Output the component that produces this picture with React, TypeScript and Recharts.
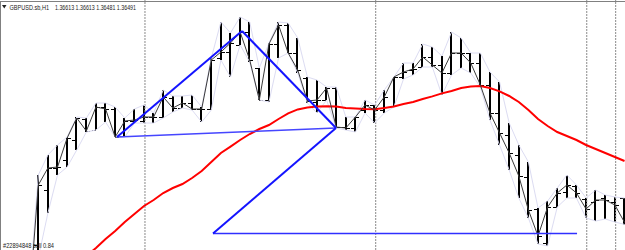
import React from 'react';
import { ComposedChart, Line, Bar, XAxis, YAxis, ReferenceLine } from 'recharts';

// bar index (hourly bars, -1 is the bar just off the left/bottom edge)
const barIndex = [
  -1, 0, 1, 2, 3, 4, 5, 6, 7, 8, 9, 10, 11, 12, 13, 14, 15, 16, 17, 18, 19, 20,
  21, 22, 23, 24, 25, 26, 27, 28, 29, 30, 31, 32, 33, 34, 35, 36, 37, 38, 39, 40,
  41, 42, 43, 44, 45, 46, 47, 48, 49, 50, 51, 52, 53, 54, 55, 56, 57, 58, 59, 60, 61,
];

const opens = [
  1.36003, 1.36378, 1.36653, 1.36763, 1.36803, 1.36903, 1.37008, 1.36953, 1.37068, 1.37058, 1.36923,
  1.36998, 1.36998, 1.37018, 1.37018, 1.37113, 1.37063, 1.37088, 1.37058, 1.37058, 1.37313,
  1.37343, 1.37378, 1.37443, 1.37263, 1.37103, 1.37383, 1.37478, 1.37338, 1.37213, 1.37093,
  1.37103, 1.37163, 1.36968, 1.36963, 1.37053, 1.37078, 1.37053, 1.37073, 1.37218, 1.37253,
  1.37268, 1.37318, 1.37278, 1.37238, 1.37338, 1.37338, 1.37288, 1.37178, 1.37038, 1.36928,
  1.36828, 1.36718, 1.36558, 1.36388, 1.36568, 1.36643, 1.36673, 1.36608, 1.36593, 1.36613,
  1.36593, 1.36613,
];

const highs = [
  1.36103, 1.36728, 1.36828, 1.36878, 1.36918, 1.37018, 1.37013, 1.37088, 1.37088, 1.37068, 1.37013,
  1.37058, 1.37078, 1.37038, 1.37153, 1.37123, 1.37123, 1.37128, 1.37068, 1.37313, 1.37493,
  1.37438, 1.37518, 1.37493, 1.37263, 1.37388, 1.37493, 1.37488, 1.37413, 1.37218, 1.37203,
  1.37168, 1.37168, 1.37018, 1.37018, 1.37103, 1.37078, 1.37153, 1.37218, 1.37288, 1.37288,
  1.37383, 1.37368, 1.37323, 1.37443, 1.37413, 1.37338, 1.37338, 1.37243, 1.37193, 1.36988,
  1.36878, 1.36793, 1.36563, 1.36598, 1.36663, 1.36728, 1.36678, 1.36613, 1.36653, 1.36628,
  1.36618, 1.36613,
];

const lows = [
  1.35953, 1.36313, 1.36538, 1.36728, 1.36768, 1.36853, 1.36943, 1.36953, 1.36993, 1.36918, 1.36918,
  1.36988, 1.36988, 1.36988, 1.37013, 1.37043, 1.37063, 1.37053, 1.36993, 1.37053, 1.37303,
  1.37218, 1.37378, 1.37293, 1.37103, 1.37093, 1.37313, 1.37338, 1.37238, 1.37088, 1.37038,
  1.37103, 1.36963, 1.36953, 1.36943, 1.37038, 1.36988, 1.37038, 1.37068, 1.37208, 1.37228,
  1.37268, 1.37268, 1.37128, 1.37228, 1.37263, 1.37238, 1.37168, 1.37003, 1.36878, 1.36753,
  1.36613, 1.36513, 1.36383, 1.36373, 1.36568, 1.36613, 1.36613, 1.36513, 1.36498, 1.36508,
  1.36493, 1.36481,
];

const closes = [
  1.36053, 1.36678, 1.36763, 1.36768, 1.36913, 1.37013, 1.36948, 1.37068, 1.37058, 1.36918, 1.36998,
  1.37003, 1.37018, 1.37018, 1.37118, 1.37063, 1.37088, 1.37058, 1.37058, 1.37303, 1.37343,
  1.37388, 1.37443, 1.37303, 1.37103, 1.37383, 1.37478, 1.37338, 1.37253, 1.37098, 1.37103,
  1.37163, 1.36968, 1.36963, 1.37018, 1.37078, 1.37053, 1.37118, 1.37218, 1.37243, 1.37258,
  1.37318, 1.37278, 1.37238, 1.37338, 1.37338, 1.37288, 1.37178, 1.37038, 1.36938, 1.36838,
  1.36723, 1.36553, 1.36423, 1.36568, 1.36638, 1.36678, 1.36638, 1.36558, 1.36603, 1.36603,
  1.36578, 1.36491,
];

// red moving average
const movingAvg = [
  null, null, null, null, null, null, 1.36323, 1.36363, 1.36408, 1.36448, 1.36493,
  1.36533, 1.36573, 1.36603, 1.36638, 1.36663, 1.36683, 1.36713, 1.36748, 1.36793, 1.36838,
  1.3687, 1.36903, 1.36933, 1.36958, 1.36978, 1.37008, 1.37036, 1.37056, 1.37066, 1.3707,
  1.37072, 1.37071, 1.37063, 1.37061, 1.37058, 1.37057, 1.37063, 1.37071, 1.37083, 1.37093,
  1.37108, 1.37121, 1.37136, 1.37148, 1.37163, 1.37171, 1.37173, 1.37163, 1.37146, 1.37123,
  1.37093, 1.37053, 1.37008, 1.36973, 1.36943, 1.36923, 1.36903, 1.36878, 1.36858, 1.36838,
  1.36818, 1.36798,
];

// harmonic pattern points X, A, B, C, D
const patternNames = ['X', 'A', 'B', 'C', 'D'];
const patternIdx = [8.19, 21.2, 30.98, 18.18, 56.06];
const patternPrice = [1.36918, 1.37448, 1.36963, 1.364355, 1.364355];

// vertical dotted separators (bar positions)
const separators = [11.1, 35.11, 57.07, 60.08];

const headerSymbol = 'GBPUSD.sb,H1';
const headerValues = '1.36613 1.36613 1.36481 1.36491';
const footerText = '#22894848 sell 0.84';

const data = barIndex.map((i, k) => ({
  i,
  o: opens[k],
  h: highs[k],
  l: lows[k],
  c: closes[k],
  range: [lows[k], highs[k]],
  ma: movingAvg[k],
}));

const pt = (n: string) => {
  const k = patternNames.indexOf(n);
  return { x: patternIdx[k], y: patternPrice[k] };
};
const segments = [
  { from: 'X', to: 'B', color: '#4646ff', width: 1.5 },
  { from: 'C', to: 'D', color: '#3030ff', width: 1.5 },
  { from: 'X', to: 'A', color: '#1414ff', width: 2 },
  { from: 'A', to: 'B', color: '#1414ff', width: 2 },
  { from: 'B', to: 'C', color: '#1414ff', width: 2 },
];

const OhlcShape = (props: any) => {
  const { x, y, width, height, payload } = props;
  if (!payload || payload.h == null || x == null) return null;
  const cx = Math.round(x + width / 2);
  const top = Math.min(y, y + height);
  const bot = Math.max(y, y + height);
  const span = payload.h - payload.l;
  const toY = (p: number) => (span === 0 ? top : top + ((payload.h - p) / span) * (bot - top));
  const yo = Math.round(toY(payload.o)) + 0.5;
  const yc = Math.round(toY(payload.c)) + 0.5;
  return (
    <g>
      <line x1={cx} x2={cx} y1={top} y2={bot} stroke="#000" strokeWidth={2} />
      <line x1={cx - 4} x2={cx} y1={yo} y2={yo} stroke="#000" strokeWidth={1} />
      <line x1={cx} x2={cx + 4} y1={yc} y2={yc} stroke="#000" strokeWidth={1} />
    </g>
  );
};

export default function App() {
  return (
    <div
      style={{
        position: 'absolute',
        left: 0,
        top: 0,
        width: 625,
        height: 250,
        background: '#fff',
        overflow: 'hidden',
      }}
    >
      <ComposedChart width={625} height={250} data={data} margin={{ top: 0, right: 0, bottom: 0, left: 0 }}>
        <XAxis type="number" dataKey="i" domain={[-3.9854, 61.05]} allowDataOverflow hide />
        <YAxis type="number" domain={[1.36353, 1.37603]} allowDataOverflow hide />
        {separators.map((s) => (
          <ReferenceLine key={s} x={s} stroke="#8a8a8a" strokeDasharray="2 1" strokeWidth={1} />
        ))}
        <Line dataKey="h" stroke="#dcdcf2" strokeWidth={1} dot={false} activeDot={false} isAnimationActive={false} />
        <Line dataKey="l" stroke="#dcdcf2" strokeWidth={1} dot={false} activeDot={false} isAnimationActive={false} />
        <Line dataKey="ma" stroke="#ff0000" strokeWidth={2} dot={false} activeDot={false} isAnimationActive={false} />
        <Bar dataKey="range" barSize={3} shape={OhlcShape} isAnimationActive={false} />
        <Line dataKey="c" stroke="#3a3a3a" strokeWidth={1} dot={false} activeDot={false} isAnimationActive={false} />
        {segments.map((s) => (
          <ReferenceLine
            key={s.from + s.to}
            segment={[pt(s.from), pt(s.to)]}
            stroke={s.color}
            strokeWidth={s.width}
            ifOverflow="visible"
          />
        ))}
      </ComposedChart>
      <div
        style={{
          position: 'absolute',
          left: 0,
          top: 1,
          width: 625,
          height: 249,
          borderTop: '1px solid #808080',
          borderLeft: '1px solid #808080',
          boxSizing: 'border-box',
          pointerEvents: 'none',
        }}
      />
      <svg
        width={625}
        height={250}
        style={{ position: 'absolute', left: 0, top: 0, pointerEvents: 'none' }}
      >
        <polygon points="2,5 6.5,5 4.25,8.5" fill="#222" />
        <text
          x={9.5}
          y={9.5}
          fontFamily="Liberation Sans, Arial, sans-serif"
          fontSize={7}
          fill="#222"
          textLength={39.5}
          lengthAdjust="spacingAndGlyphs"
        >
          {headerSymbol}
        </text>
        <text
          x={55}
          y={9.5}
          fontFamily="Liberation Sans, Arial, sans-serif"
          fontSize={7}
          fill="#222"
          textLength={81}
          lengthAdjust="spacingAndGlyphs"
        >
          {headerValues}
        </text>
        <text
          x={3}
          y={248}
          fontFamily="Liberation Sans, Arial, sans-serif"
          fontSize={6.5}
          fill="#222"
          textLength={51}
          lengthAdjust="spacingAndGlyphs"
        >
          {footerText}
        </text>
      </svg>
    </div>
  );
}
